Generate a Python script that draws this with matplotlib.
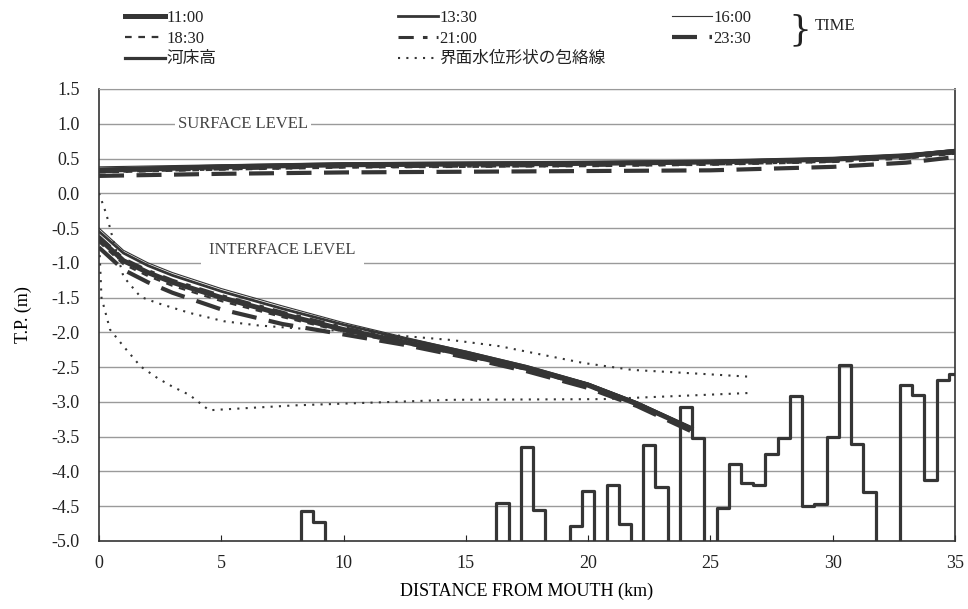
import numpy as np
import matplotlib.pyplot as plt
from matplotlib.lines import Line2D

# Estilo general
plt.rcParams.update({
    'font.family': ['Liberation Serif', 'Noto Sans CJK JP'],
    'font.size': 13,
    'text.color': '#222222',
    'axes.edgecolor': '#333333',
    'xtick.color': '#222222',
    'ytick.color': '#222222',
    'figure.facecolor': 'white',
    'axes.facecolor': 'white',
})

# Niveles de agua (superficie) por hora
surf_km = [0, 5, 10, 15, 20, 25, 30, 33, 35]
surf_1100 = [0.33, 0.38, 0.41, 0.42, 0.43, 0.45, 0.49, 0.54, 0.60]
surf_1330 = [0.35, 0.39, 0.42, 0.43, 0.44, 0.46, 0.50, 0.55, 0.62]
surf_1600 = [0.38, 0.41, 0.44, 0.45, 0.46, 0.47, 0.51, 0.56, 0.63]
surf_1830 = [0.30, 0.34, 0.37, 0.38, 0.39, 0.41, 0.45, 0.50, 0.57]
surf_2100 = [0.31, 0.35, 0.38, 0.39, 0.40, 0.42, 0.46, 0.51, 0.58]
surf_2330 = [0.25, 0.28, 0.30, 0.31, 0.32, 0.33, 0.38, 0.44, 0.52]

# Nivel de interfaz por hora
intf_km = [0, 1, 2, 3, 5, 7.5, 10, 12.5, 15, 17.5, 20, 22, 24.2]
intf_1100 = [-0.65, -0.97, -1.14, -1.28, -1.50, -1.74, -1.96, -2.14, -2.32, -2.52, -2.76, -3.03, -3.38]
intf_1330 = [-0.55, -0.86, -1.04, -1.18, -1.41, -1.66, -1.89, -2.09, -2.28, -2.49, -2.74, -3.01, -3.37]
intf_1600 = [-0.50, -0.82, -1.00, -1.14, -1.37, -1.62, -1.86, -2.07, -2.27, -2.48, -2.73, -3.00, -3.36]
intf_1830 = [-0.70, -1.02, -1.19, -1.33, -1.55, -1.78, -1.99, -2.16, -2.34, -2.54, -2.78, -3.04, -3.40]
intf_2100 = [-0.62, -0.94, -1.11, -1.25, -1.47, -1.71, -1.93, -2.12, -2.31, -2.51, -2.75, -3.02, -3.38]
intf_2330 = [-0.78, -1.10, -1.28, -1.43, -1.67, -1.88, -2.03, -2.18, -2.36, -2.56, -2.80, -3.06, -3.42]

# Envolventes de la forma de la interfaz
env_up_km = [0, 0.3, 0.6, 1.0, 1.7, 2.4, 3.7, 5.1, 6.5, 8.0, 10, 12.7, 14.4, 16.4, 17.1, 19.8, 21.8, 24.8, 26.7]
env_up_tp = [0.0, -0.3, -0.7, -1.2, -1.49, -1.58, -1.72, -1.84, -1.90, -1.94, -1.98, -2.06, -2.11, -2.20, -2.25, -2.44, -2.54, -2.60, -2.64]
env_lo_km = [0, 0.1, 0.45, 1.0, 1.7, 2.4, 3.0, 3.7, 4.5, 8.0, 12.0, 14.4, 20.6, 24.7, 26.7]
env_lo_tp = [-0.65, -1.50, -1.96, -2.20, -2.49, -2.66, -2.78, -2.90, -3.12, -3.05, -3.00, -2.97, -2.96, -2.90, -2.87]

# Cota del lecho (tramos escalonados, -5.5 = por debajo del eje)
bed_km = [0, 8.25, 8.75, 9.25, 16.25, 16.75, 17.25, 17.75, 18.25, 19.25, 19.75, 20.25, 20.75,
          21.25, 21.75, 22.25, 22.75, 23.25, 23.75, 24.25, 24.75, 25.25, 25.75, 26.25, 26.75,
          27.25, 27.75, 28.25, 28.75, 29.25, 29.75, 30.25, 30.75, 31.25, 31.75, 32.75, 33.25,
          33.75, 34.25, 34.75, 35.0]
bed_tp = [-5.5, -4.57, -4.73, -5.5, -4.45, -5.5, -3.65, -4.55, -5.5, -4.78, -4.28, -5.5, -4.2,
          -4.75, -5.5, -3.62, -4.22, -5.5, -3.08, -3.52, -5.5, -4.53, -3.9, -4.16, -4.2,
          -3.75, -3.52, -2.92, -4.5, -4.47, -3.5, -2.47, -3.6, -4.3, -5.5, -2.75, -2.9,
          -4.12, -2.68, -2.6, -2.6]

times = ['11:00', '13:30', '16:00', '18:30', '21:00', '23:30']
surf_all = [surf_1100, surf_1330, surf_1600, surf_1830, surf_2100, surf_2330]
intf_all = [intf_1100, intf_1330, intf_1600, intf_1830, intf_2100, intf_2330]

ink = '#353535'
styles = {
    '11:00': dict(lw=3.6, ls='-'),
    '13:30': dict(lw=2.0, ls='-'),
    '16:00': dict(lw=0.8, ls='-'),
    '18:30': dict(lw=1.6, ls=(0, (3, 3))),
    '21:00': dict(lw=2.2, ls=(0, (5, 3, 1.5, 3))),
    '23:30': dict(lw=3.0, ls=(0, (6, 3))),
}
bed_style = dict(lw=2.3, ls='-')
env_style = dict(lw=1.5, ls=(0, (1, 3)))

fig = plt.figure(figsize=(9.68, 6.09), dpi=100)
ax = fig.add_axes([0.1023, 0.1117, 0.8843, 0.7422])

# Cuadrícula horizontal
yt = np.arange(-5.0, 1.51, 0.5)
for y in yt[1:]:
    ax.axhline(y, color='#9a9a9a', lw=1.0, zorder=0)

for t, s, i in zip(times, surf_all, intf_all):
    ax.plot(surf_km, s, color=ink, zorder=3, **styles[t])
    ax.plot(intf_km, i, color=ink, zorder=3, **styles[t])

ax.plot(env_up_km, env_up_tp, color=ink, zorder=2, **env_style)
ax.plot(env_lo_km, env_lo_tp, color=ink, zorder=2, **env_style)
ax.step(bed_km, bed_tp, where='post', color=ink, zorder=2, **bed_style)

# Rótulos dentro del gráfico
ax.text(5.9, 1.0, 'SURFACE LEVEL', ha='center', va='center', fontsize=12, color='#444444',
        bbox=dict(facecolor='white', edgecolor='none', pad=2), zorder=1)
ax.text(7.5, -0.82, 'INTERFACE LEVEL', ha='center', va='center', fontsize=12, color='#444444',
        bbox=dict(facecolor='white', edgecolor='none', pad=6), zorder=1)

# Ejes
ax.set_xlim(0, 35)
ax.set_ylim(-5.0, 1.5)
ax.set_xticks(np.arange(0, 36, 5))
ax.set_yticks(yt)
ax.set_yticklabels([f'{v:.1f}' for v in yt])
ax.tick_params(axis='x', direction='in', length=4, pad=10, labelsize=13)
ax.tick_params(axis='y', length=0, pad=14, labelsize=13)
ax.spines['top'].set_color('#9a9a9a')
for sp in ['left', 'bottom', 'right']:
    ax.spines[sp].set_linewidth(1.2)
ax.set_xlabel('DISTANCE FROM MOUTH (km)', fontsize=13, labelpad=8)
ax.set_ylabel('T.P. (m)', fontsize=13, labelpad=14)


# Leyenda en tres columnas
def handle(style):
    return Line2D([], [], color=ink, **style)


cols = [
    (125, [(styles['11:00'], '11:00'), (styles['18:30'], '18:30'), (bed_style, '河床高')]),
    (398, [(styles['13:30'], '13:30'), (styles['21:00'], '21:00'), (env_style, '界面水位形状の包絡線')]),
    (672, [(styles['16:00'], '16:00'), (styles['23:30'], '23:30')]),
]
for x0, items in cols:
    fig.legend([handle(s) for s, _ in items], [lab for _, lab in items],
               loc='upper left', bbox_to_anchor=(x0 / 968, 1 - 10 / 609),
               frameon=False, fontsize=12, handlelength=2.4, handletextpad=0.1,
               labelspacing=0.28, borderpad=0, borderaxespad=0)

fig.text(788 / 968, 1 - 30 / 609, '}', fontsize=26, va='center', ha='left',
         family='DejaVu Serif', fontweight='light')
fig.text(815 / 968, 1 - 26 / 609, 'TIME', fontsize=12, va='center', ha='left')

plt.savefig('out.png', dpi=100, facecolor='white')
